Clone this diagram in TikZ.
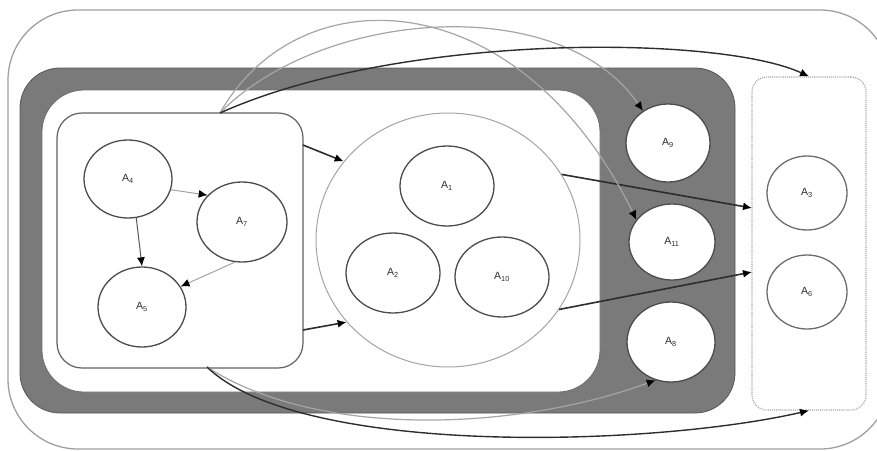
\documentclass[tikz,border=0pt]{standalone}
\usepackage{fontspec}
\setmainfont{Liberation Sans}
\usetikzlibrary{shapes.geometric,arrows.meta}
\definecolor{band}{RGB}{122,122,122}
\definecolor{dk}{RGB}{45,45,45}
\definecolor{lt}{RGB}{165,165,165}
\tikzset{
  ell/.style={ellipse,draw=dk!85,line width=1.3pt,fill=white,inner sep=0pt,
    font=\fontsize{10.5}{12}\selectfont,text=dk},
  ellr/.style={ell,draw=dk!70},
  tip/.style={-{Latex[length=9pt,width=8pt,color=black]}},
  heavy/.style={tip,draw=dk,line width=1.6pt},
  darkcurve/.style={tip,draw=dk,line width=1.4pt},
  lightcurve/.style={tip,draw=lt,line width=1.2pt},
  thinlight/.style={tip,draw=lt,line width=1pt},
  thindark/.style={tip,draw=dk!80,line width=1pt},
}
\begin{document}
\begin{tikzpicture}[x=1pt,y=-1pt]
\useasboundingbox (0,0) rectangle (877,450);
\clip (0,0) rectangle (877,450);
% outer frame
\node[draw=gray!75,line width=1.3pt,rounded corners=70pt,minimum width=882pt,minimum height=439pt,inner sep=0pt] (outer) at (449,229.5) {};
% grey band
\node[draw=dk!80,fill=band,line width=0.8pt,rounded corners=40pt,minimum width=715pt,minimum height=345pt,inner sep=0pt] (band) at (377.5,240.5) {};
\node[draw=dk!70,fill=white,line width=0.8pt,rounded corners=42pt,minimum width=558pt,minimum height=302pt,inner sep=0pt] (inner) at (321,241) {};
% left box
\node[draw=dk!75,line width=1.2pt,rounded corners=25pt,minimum width=246pt,minimum height=255pt,inner sep=0pt] (lb) at (180,240.5) {};
% big circle
\node[ellipse,draw=lt,line width=1pt,minimum width=264pt,minimum height=254pt,inner sep=0pt] (bc) at (448,240) {};
% right box
\node[draw=lt,densely dotted,line width=1.1pt,rounded corners=15pt,minimum width=114pt,minimum height=333pt,inner sep=0pt] (rb) at (809,243.5) {};
% ellipses
\node[ell,minimum width=88pt,minimum height=78pt] (a4) at (128,179) {A\textsubscript{4}};
\node[ell,minimum width=90pt,minimum height=80pt] (a7) at (242,222) {A\textsubscript{7}};
\node[ell,minimum width=88pt,minimum height=80pt] (a5) at (142,307) {A\textsubscript{5}};
\node[ell,minimum width=94pt,minimum height=80pt] (a1) at (447,186) {A\textsubscript{1}};
\node[ell,minimum width=94pt,minimum height=80pt] (a2) at (393,273) {A\textsubscript{2}};
\node[ell,minimum width=94pt,minimum height=80pt] (a10) at (502,277) {A\textsubscript{10}};
\node[ell,minimum width=84pt,minimum height=78pt] (a9) at (668,143) {A\textsubscript{9}};
\node[ell,minimum width=86pt,minimum height=76pt] (a11) at (672,242) {A\textsubscript{11}};
\node[ell,minimum width=88pt,minimum height=80pt] (a8) at (671,342) {A\textsubscript{8}};
\node[ellr,minimum width=80pt,minimum height=74pt] (a3) at (807,193) {A\textsubscript{3}};
\node[ellr,minimum width=80pt,minimum height=74pt] (a6) at (807,292) {A\textsubscript{6}};
% free-end coordinates
\coordinate (ltop) at (220,113);
\coordinate (lbot) at (207,367);
\coordinate (l1) at (303,145);
\coordinate (l2) at (303,330);
\coordinate (r1) at (752,208);
\coordinate (r2) at (752,272);
% arrows inside left box
\draw[thinlight] (a4.-14) -- (a7.142);
\draw[thindark] (a4.-78) -- (a5.north);
\draw[thinlight] (a7.-100) -- (a5.28);
% left box to big circle
\draw[heavy] (l1) -- (bc.143);
\draw[heavy] (l2) -- (bc.-141);
% big circle to right box
\draw[heavy] (bc.30) -- (r1);
\draw[heavy] (bc.-32) -- (r2);
% top curves
\draw[lightcurve] (ltop) .. controls (300,-28) and (520,-18) .. (a11.148);
\draw[lightcurve] (ltop) .. controls (320,10) and (560,-10) .. (a9.128);
\draw[darkcurve] (ltop) .. controls (400,32) and (720,35) .. (rb.north);
% bottom curves
\draw[lightcurve] (lbot) .. controls (320,440) and (520,430) .. (a8.-112);
\draw[darkcurve] (lbot) .. controls (300,457) and (650,447) .. (rb.south);
\end{tikzpicture}
\end{document}
